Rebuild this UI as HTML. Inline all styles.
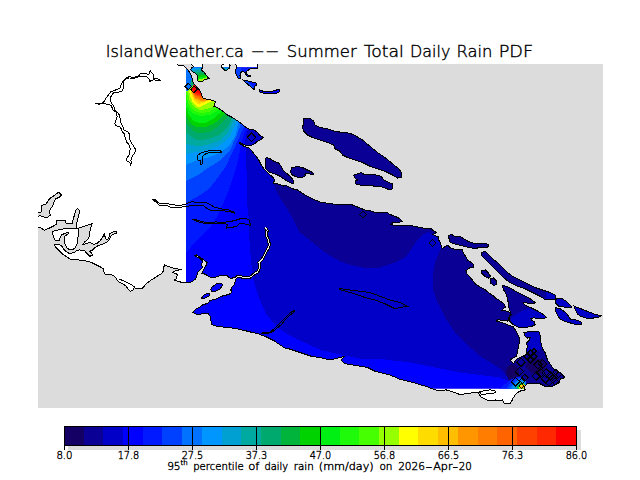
<!DOCTYPE html><html><head><meta charset="utf-8"><title>IslandWeather.ca -- Summer Total Daily Rain PDF</title>
<style>html,body{margin:0;padding:0;background:#fff;width:640px;height:480px;overflow:hidden}svg{display:block}text{font-family:"Liberation Sans",Arial,sans-serif;fill:#000}.mo{font-family:"Liberation Mono",monospace}.tt{font-family:"DejaVu Sans","Liberation Sans",sans-serif;font-weight:200;stroke:#000;stroke-width:0.4px}</style></head><body>
<svg width="640" height="480" viewBox="0 0 640 480">
<defs>
<clipPath id="map"><rect x="38" y="64" width="565" height="344"/></clipPath>
<clipPath id="land"><path d="M30 60 L176 60 L176 63.1 L178.25 65.3 L182.6 65.3 L184.5 66.25 L187 68.75 L188.9 71.25 L190.75 74.4 L192 77.5 L192.6 80.6 L193.6 83.75 L195.25 85.25 L197.1 87.75 L199 89.6 L200.9 92.75 L202.1 95.9 L202.75 97.75 L204.6 98.7 L209 99.6 L212.75 100.25 L215.25 101.8 L214.6 104.6 L214 106.2 L215.9 107.1 L219 108.7 L221.5 110.25 L224 112.1 L227.5 115 L232.5 117.5 L236.25 120 L240 122.5 L243.75 125.6 L246.9 128.1 L250 129.4 L253.75 130 L256.9 131.9 L259.4 135 L263.1 137.5 L261.25 139.4 L257.5 141.25 L253.75 144.4 L250 145.6 L246.25 145.6 L243.1 144.4 L240 142.5 L239.4 143.1 L241.9 145 L245 146.9 L248.75 147.5 L251.25 150 L253.75 153.75 L256.25 156.25 L258.75 160 L260.6 163.75 L262.5 166.9 L265 170 L268.75 173.75 L272.5 176.9 L275 180 L273.1 183.1 L276.25 183.75 L280 184.4 L283.1 186.25 L285 185 L288.75 186.9 L292.5 188.75 L297.5 190 L305 195 L312.5 198.75 L320 202 L330 203.75 L340 204.5 L352.5 205 L357.5 207 L365 210 L370 210.5 L375 212.5 L382.5 213 L386.25 212 L390 214.5 L395 216.25 L400 218.75 L402.5 221.25 L398.75 222.5 L392.5 223 L390.5 224.5 L395 225.5 L405 225 L415 226.25 L422.5 228 L425 228.3 L430.6 228.3 L433.4 230.6 L436.25 232.5 L434.4 233.9 L432.5 234.4 L434.4 235.3 L439 237.2 L438.6 240 L440 241.9 L442.3 248.9 L443.75 247.5 L447.5 245.2 L449.8 247.5 L453.1 248.9 L457.8 249.4 L462.5 249.8 L463.4 253.1 L465.3 255.9 L467.2 259.7 L470 261.6 L473.2 264.2 L473.2 267.1 L469.6 267.8 L466 270.75 L466.7 273.7 L469.6 276.6 L472.5 280.2 L475.4 283.9 L479.8 286.8 L484.2 289 L488.5 292.6 L492.9 295.5 L495.8 298.5 L498.75 299.9 L501.7 302.1 L504.6 304.3 L505.3 307.2 L503.1 308.7 L501.7 310.1 L505.3 310.9 L507.5 311.6 L509.7 312.3 L510.4 314.5 L509 316.7 L509 319.6 L507.5 321.1 L501.7 320.3 L498 319.6 L496.6 321.1 L501.7 322.5 L507.5 324.7 L513.3 326.9 L516.25 331.25 L517.5 333.75 L518.75 336.25 L519.4 338.75 L519.4 342.5 L518.75 345 L518.1 348.75 L517.5 352.5 L516.25 356.25 L513.75 357.5 L511.25 358.75 L510.6 360.6 L512.5 362.5 L513.75 363.75 L515 361.25 L517.5 358.75 L520 357.5 L522.5 356.25 L525 355 L526.9 353.75 L526.25 350 L527.5 346.25 L526.25 343.75 L527.5 341.9 L529.4 340 L530 337.5 L527.5 338.1 L525 336.25 L523.75 332.5 L527.5 331.9 L532.5 331.5 L537.5 331.25 L538.75 331.25 L540 335 L540.6 340 L541.25 345 L542.5 348.75 L545 352.5 L546.25 356.25 L547.5 360 L550 363.75 L552.5 367.5 L555 370 L557.5 371.25 L560 372.5 L562.5 375 L564.4 376.9 L563.75 378.1 L561.25 378.1 L560 380 L559.4 382.5 L557.5 383.75 L555 385 L552.5 386.25 L548.75 386.9 L545 386.25 L542.5 385 L540 383.75 L536.25 383.1 L532.5 383.1 L528.75 383.1 L526.25 384.4 L525 386.25 L524.4 388.75 L525.2 389.9 L521.25 390.7 L518.1 392.2 L515 395.3 L512.7 398.5 L511.9 400.8 L510.3 403.1 L507.2 403.9 L504.1 403.1 L502.5 400 L497.8 400.8 L495.5 400 L491.6 400.8 L486.9 400 L482.2 397.7 L479.1 395.3 L480.6 393 L477.5 392.2 L471.25 393 L465 393.8 L460.3 394.6 L455.6 393 L450.9 391.4 L446.25 389.9 L440 390.7 L437.6 390.5 L434.5 389.5 L430.5 388.4 L426.4 386.4 L422.3 385.4 L416.25 383.4 L408.1 381.3 L400 379.3 L390 375 L375 371.25 L367.5 367.5 L356.25 365.6 L345 363.75 L341.25 360 L345 356.25 L337.5 358.1 L330 360 L322.5 358.1 L311.25 356.25 L300 352.5 L288.75 348.75 L285 348.1 L279.4 344.4 L273.75 340.6 L266.25 336.9 L258.75 334 L251.25 332.2 L240 329.4 L228.75 327.5 L217.5 326.6 L211.9 324.7 L210 316.25 L208.1 313.4 L196.9 314.4 L193.1 312.5 L195 309.7 L198.75 307.8 L202.5 305 L208.1 303.1 L210 300.3 L215.6 299.4 L221.5 296.25 L226.5 295 L230.25 293.75 L231.5 292.5 L230.9 290 L231.5 287.5 L234 285 L235.25 281.25 L236.5 278.1 L234 276.9 L231.5 278.75 L229 277.5 L227.1 275.6 L224 275 L220.25 275.6 L216.5 276.9 L212.75 277.5 L209 276.9 L206.5 275 L204 273.75 L201.5 273.75 L202.75 271.25 L204.6 267.5 L206.5 265 L207.1 262.5 L204 260 L200.25 257.5 L196.5 255 L195.25 255.6 L196.5 256.9 L200.25 258.75 L202.75 261.25 L201.5 264.4 L202.75 267.5 L200.25 270 L197.75 272.5 L197.1 275 L195.9 278.75 L192.75 281.25 L189 283.1 L186 282.5 L182.5 282.5 L177.5 281.25 L173.75 280 L176.25 278.75 L176.25 276.9 L178.1 275 L176.25 273.75 L172.5 272.5 L173.75 271.25 L178.1 270.6 L180.6 269.4 L176.25 268.75 L171.25 267.5 L167.5 266.25 L164.4 265 L163.75 267.5 L163.1 271.25 L161.25 273.75 L156.25 276.9 L151.25 280 L146.25 283.75 L142.5 288.1 L135 288.1 L134.4 287.5 L133.1 290 L130.6 291.25 L128.75 290 L126.25 286.25 L122.5 283.75 L118.75 281.9 L117.5 280.6 L116.25 278.1 L113.75 275.6 L110 274.4 L108.5 274.1 L105.4 274.75 L104.1 272.25 L103.5 269.1 L101 267.25 L97.25 265.4 L93.5 263.5 L91.1 262.3 L83.2 260.4 L75.4 259.7 L70.1 259 L66.2 256.4 L62.25 253.8 L59 250.5 L55.7 247.25 L54.4 244.6 L55 244 L59 244.6 L61.6 245.9 L64.2 249.9 L67.5 252.5 L70.1 253.8 L72.7 252.5 L75.4 251.8 L76.7 250.5 L79.3 249.9 L84.6 250.5 L86.5 253 L89.8 256.4 L92.4 255.1 L91.8 253.15 L89.8 251.2 L92.4 250.5 L93.7 248.6 L97.7 245.9 L101.6 244.6 L106.9 242 L109.5 239.4 L110.8 236.1 L113.4 234.1 L116.3 233.5 L116.05 231.5 L112.1 232.15 L109.5 234.1 L108.8 238.1 L106.9 240 L105.55 238.1 L104.2 234.1 L102.9 236.75 L100.3 240.7 L97 243.3 L93.7 244.6 L89.8 242 L87.2 243.3 L82.6 244.6 L84.6 242 L87.8 239.4 L89.15 236.75 L89.8 231.5 L91.1 226.25 L92.4 223.6 L85.9 225.6 L80 227.6 L78.65 228.2 L76.7 228.2 L76.7 223.6 L78 218.4 L79.3 213.1 L79 209.8 L77.3 208.5 L75.4 210.5 L74.7 214.4 L73.4 218.4 L72.1 223.6 L66.2 223.6 L65.5 220.3 L56.3 220.3 L56.3 224.3 L53.1 226.25 L49.1 228.2 L44.5 230.2 L41.25 228.2 L38 226.9 L30 226.9ZM190.1 60 L190.1 62.8 L192.6 65.6 L193.6 66.25 L191.4 68.1 L190.75 70 L192.6 71.9 L195.1 73.1 L197 75 L197.6 78.1 L197.6 80.6 L198.25 81.6 L202 81.6 L203.9 80 L206.4 79.4 L208.9 78.4 L207 76.25 L205.1 73.75 L203.9 71.9 L202 70.6 L201.4 69.4 L202.6 67.5 L202.6 65 L201.4 62.8 L201.4 60ZM221.9 65 L225 63.75 L228.75 63.75 L230 65.6 L229.4 68.1 L226.9 70 L224.4 70 L221.9 67.5ZM235 60 L257.5 60 L257.5 68.75 L250 68.75 L249.4 69.4 L246.9 71.25 L246.25 73.75 L248.1 75 L250 75.6 L250 76.9 L248.1 76.9 L246.25 75.6 L245 72.5 L243.1 71.25 L240.6 72.5 L240 75.6 L240 78.1 L238.1 78.1 L236.25 75 L235.6 71.25 L236.25 67.5 L236 65ZM243.1 80 L248.75 81.25 L256.25 83.1 L256.9 85 L255 86.25 L254.4 89.4 L253.1 88.75 L250 86.25 L246.25 83.1ZM259.4 90 L261.25 90.6 L265 91.9 L270 91.9 L275 90.6 L278.1 89.4 L279.75 90 L278.75 92.5 L275 93.5 L270 93.75 L265 93.5 L261.25 92.75 L259.4 91.9ZM303.75 118.75 L307.5 118 L310 118 L313.75 121.25 L315 125 L320 127.5 L327.5 128.75 L335 131.25 L342.5 132.5 L350 133.25 L356.25 136.25 L362.5 140 L370 146.25 L377.5 152.5 L385 157.5 L392.5 163.75 L398.75 168.75 L401.25 172.5 L401.25 177.5 L397.5 178 L392.5 175 L385 171.25 L377.5 168.75 L370 166.25 L362.5 162.5 L355 160 L347.5 157.5 L342.5 155 L340 151.25 L335 148.75 L333.75 145 L327.5 142.5 L320 140 L312.5 137.5 L307.5 135 L303.75 131.25 L302.5 127.5 L303.75 122.5ZM353.75 175 L357.5 173.75 L361.25 172.5 L365 175 L370 174.5 L376.25 175 L381.25 176.25 L383.75 180 L388.75 182.5 L392.5 183.75 L393 188.75 L390 190 L385 188 L380 186.25 L375 186.25 L367.5 185 L360 185 L355.5 183.75 L355 181.25 L357.5 180 L354.5 177.5ZM290.6 172.5 L291.25 168.1 L295 166.9 L300 166.9 L303.75 168.1 L307.5 170 L311.25 171.9 L313.75 173.75 L312.5 174.75 L308.75 173.75 L306.25 173.1 L305 174.4 L305.6 175.6 L303.75 176.9 L300 177.5 L296.25 176.9 L292.5 175ZM266.25 157.5 L270 158.75 L273.75 161.25 L278.75 163.1 L281.25 166.25 L283.1 170 L286.25 173.1 L290 176.25 L293.1 180 L293.75 183.1 L291.25 183.1 L287.5 181.25 L283.75 178.75 L280 176.25 L276.25 174.4 L272.5 173.1 L268.75 171.9 L266.25 169.4 L265 165 L265.6 160ZM448 235.3 L452.2 234.8 L455 236.7 L459.7 236.25 L462.5 238.1 L467.2 240.9 L471.9 242.8 L477.5 243.75 L486.25 243.75 L488.75 245 L487.5 247.5 L477.5 248 L471.9 248 L465.3 246.6 L457.8 244.7 L451.25 242.8 L448.9 241 L449.4 239 L448 237.2ZM481.25 252.5 L485 251.25 L488.75 255 L492.5 258.75 L497.5 262.5 L502.5 267.5 L507.5 272.5 L512.5 276.25 L520 280 L527.5 283.75 L535 287.5 L542.5 290 L550 292.5 L555 295 L556.25 298.75 L552.5 300 L545 299.5 L540 296.25 L532.5 292.5 L525 288.75 L517.5 286.25 L510 282.5 L505 278.75 L500 273.75 L495 268.75 L490 263.75 L485 258.75 L481.25 255ZM481.25 270.75 L485.6 270 L488.5 272.9 L490.7 276.6 L488.5 278 L484.9 276.6 L482 273.7ZM490 278.8 L493.6 278 L496.6 281 L496.6 284.6 L493.6 285.3 L490.7 283.1 L490 280.2ZM502.4 285.2 L506.5 286.3 L512.2 289.2 L517.9 292.6 L524.8 296 L530.5 298.9 L535.1 302.3 L533.9 304 L529.4 303.5 L523.6 302.3 L523.1 303.5 L526.5 305.8 L531.7 308.1 L537.4 310.9 L543.1 314.4 L546.5 317.2 L544.3 318.4 L539.7 318.9 L533.9 317.8 L530.5 318.4 L531.7 320.1 L534.5 321.8 L535.1 324.7 L531.7 326.4 L524.8 327.5 L517.9 327 L513.3 324.7 L509.9 321.2 L508.7 317.8 L511 314.4 L509.9 310.9 L508.7 307.5 L508.2 302.9 L507.6 298.3 L505.9 293.7 L504.2 290.9 L503 288ZM555 299.2 L561.9 298.4 L567 301.8 L570.4 305.2 L572.2 306.9 L568.7 307.8 L563.6 306.9 L558.4 306.1 L555.8 303.5ZM555.8 307.8 L560.1 308.7 L565.3 312.1 L568.7 316.4 L570.4 319 L575.6 319.8 L580.8 321.5 L581.6 324.1 L577.3 324.6 L572.2 323.6 L568.7 322.4 L565.3 321.5 L560.1 319 L557.6 315.5 L555.8 311.2ZM573.9 306.1 L580.8 308.7 L589.3 312.1 L596.2 314.7 L601.4 315.5 L598.8 317.3 L592.8 318.1 L585.9 318.1 L580.8 316.4 L577.3 313.8 L575.6 310.4ZM211.5 287.5 L216.5 283.75 L221.5 283.1 L222.75 285 L220.25 288.75 L215.25 291.25 L211.5 291.9 L210.9 289.4ZM201.5 298.1 L204 295 L207.75 293.1 L209.6 293.75 L209 296.25 L205.9 297.5 L202.75 298.75Z"/></clipPath>
<clipPath id="data"><rect x="186" y="67.6" width="417" height="321.0"/></clipPath>
</defs>
<g clip-path="url(#map)" shape-rendering="crispEdges">
<rect x="38" y="64" width="565" height="344" fill="#dcdcdc"/>
<path d="M30 60 L176 60 L176 63.1 L178.25 65.3 L182.6 65.3 L184.5 66.25 L187 68.75 L188.9 71.25 L190.75 74.4 L192 77.5 L192.6 80.6 L193.6 83.75 L195.25 85.25 L197.1 87.75 L199 89.6 L200.9 92.75 L202.1 95.9 L202.75 97.75 L204.6 98.7 L209 99.6 L212.75 100.25 L215.25 101.8 L214.6 104.6 L214 106.2 L215.9 107.1 L219 108.7 L221.5 110.25 L224 112.1 L227.5 115 L232.5 117.5 L236.25 120 L240 122.5 L243.75 125.6 L246.9 128.1 L250 129.4 L253.75 130 L256.9 131.9 L259.4 135 L263.1 137.5 L261.25 139.4 L257.5 141.25 L253.75 144.4 L250 145.6 L246.25 145.6 L243.1 144.4 L240 142.5 L239.4 143.1 L241.9 145 L245 146.9 L248.75 147.5 L251.25 150 L253.75 153.75 L256.25 156.25 L258.75 160 L260.6 163.75 L262.5 166.9 L265 170 L268.75 173.75 L272.5 176.9 L275 180 L273.1 183.1 L276.25 183.75 L280 184.4 L283.1 186.25 L285 185 L288.75 186.9 L292.5 188.75 L297.5 190 L305 195 L312.5 198.75 L320 202 L330 203.75 L340 204.5 L352.5 205 L357.5 207 L365 210 L370 210.5 L375 212.5 L382.5 213 L386.25 212 L390 214.5 L395 216.25 L400 218.75 L402.5 221.25 L398.75 222.5 L392.5 223 L390.5 224.5 L395 225.5 L405 225 L415 226.25 L422.5 228 L425 228.3 L430.6 228.3 L433.4 230.6 L436.25 232.5 L434.4 233.9 L432.5 234.4 L434.4 235.3 L439 237.2 L438.6 240 L440 241.9 L442.3 248.9 L443.75 247.5 L447.5 245.2 L449.8 247.5 L453.1 248.9 L457.8 249.4 L462.5 249.8 L463.4 253.1 L465.3 255.9 L467.2 259.7 L470 261.6 L473.2 264.2 L473.2 267.1 L469.6 267.8 L466 270.75 L466.7 273.7 L469.6 276.6 L472.5 280.2 L475.4 283.9 L479.8 286.8 L484.2 289 L488.5 292.6 L492.9 295.5 L495.8 298.5 L498.75 299.9 L501.7 302.1 L504.6 304.3 L505.3 307.2 L503.1 308.7 L501.7 310.1 L505.3 310.9 L507.5 311.6 L509.7 312.3 L510.4 314.5 L509 316.7 L509 319.6 L507.5 321.1 L501.7 320.3 L498 319.6 L496.6 321.1 L501.7 322.5 L507.5 324.7 L513.3 326.9 L516.25 331.25 L517.5 333.75 L518.75 336.25 L519.4 338.75 L519.4 342.5 L518.75 345 L518.1 348.75 L517.5 352.5 L516.25 356.25 L513.75 357.5 L511.25 358.75 L510.6 360.6 L512.5 362.5 L513.75 363.75 L515 361.25 L517.5 358.75 L520 357.5 L522.5 356.25 L525 355 L526.9 353.75 L526.25 350 L527.5 346.25 L526.25 343.75 L527.5 341.9 L529.4 340 L530 337.5 L527.5 338.1 L525 336.25 L523.75 332.5 L527.5 331.9 L532.5 331.5 L537.5 331.25 L538.75 331.25 L540 335 L540.6 340 L541.25 345 L542.5 348.75 L545 352.5 L546.25 356.25 L547.5 360 L550 363.75 L552.5 367.5 L555 370 L557.5 371.25 L560 372.5 L562.5 375 L564.4 376.9 L563.75 378.1 L561.25 378.1 L560 380 L559.4 382.5 L557.5 383.75 L555 385 L552.5 386.25 L548.75 386.9 L545 386.25 L542.5 385 L540 383.75 L536.25 383.1 L532.5 383.1 L528.75 383.1 L526.25 384.4 L525 386.25 L524.4 388.75 L525.2 389.9 L521.25 390.7 L518.1 392.2 L515 395.3 L512.7 398.5 L511.9 400.8 L510.3 403.1 L507.2 403.9 L504.1 403.1 L502.5 400 L497.8 400.8 L495.5 400 L491.6 400.8 L486.9 400 L482.2 397.7 L479.1 395.3 L480.6 393 L477.5 392.2 L471.25 393 L465 393.8 L460.3 394.6 L455.6 393 L450.9 391.4 L446.25 389.9 L440 390.7 L437.6 390.5 L434.5 389.5 L430.5 388.4 L426.4 386.4 L422.3 385.4 L416.25 383.4 L408.1 381.3 L400 379.3 L390 375 L375 371.25 L367.5 367.5 L356.25 365.6 L345 363.75 L341.25 360 L345 356.25 L337.5 358.1 L330 360 L322.5 358.1 L311.25 356.25 L300 352.5 L288.75 348.75 L285 348.1 L279.4 344.4 L273.75 340.6 L266.25 336.9 L258.75 334 L251.25 332.2 L240 329.4 L228.75 327.5 L217.5 326.6 L211.9 324.7 L210 316.25 L208.1 313.4 L196.9 314.4 L193.1 312.5 L195 309.7 L198.75 307.8 L202.5 305 L208.1 303.1 L210 300.3 L215.6 299.4 L221.5 296.25 L226.5 295 L230.25 293.75 L231.5 292.5 L230.9 290 L231.5 287.5 L234 285 L235.25 281.25 L236.5 278.1 L234 276.9 L231.5 278.75 L229 277.5 L227.1 275.6 L224 275 L220.25 275.6 L216.5 276.9 L212.75 277.5 L209 276.9 L206.5 275 L204 273.75 L201.5 273.75 L202.75 271.25 L204.6 267.5 L206.5 265 L207.1 262.5 L204 260 L200.25 257.5 L196.5 255 L195.25 255.6 L196.5 256.9 L200.25 258.75 L202.75 261.25 L201.5 264.4 L202.75 267.5 L200.25 270 L197.75 272.5 L197.1 275 L195.9 278.75 L192.75 281.25 L189 283.1 L186 282.5 L182.5 282.5 L177.5 281.25 L173.75 280 L176.25 278.75 L176.25 276.9 L178.1 275 L176.25 273.75 L172.5 272.5 L173.75 271.25 L178.1 270.6 L180.6 269.4 L176.25 268.75 L171.25 267.5 L167.5 266.25 L164.4 265 L163.75 267.5 L163.1 271.25 L161.25 273.75 L156.25 276.9 L151.25 280 L146.25 283.75 L142.5 288.1 L135 288.1 L134.4 287.5 L133.1 290 L130.6 291.25 L128.75 290 L126.25 286.25 L122.5 283.75 L118.75 281.9 L117.5 280.6 L116.25 278.1 L113.75 275.6 L110 274.4 L108.5 274.1 L105.4 274.75 L104.1 272.25 L103.5 269.1 L101 267.25 L97.25 265.4 L93.5 263.5 L91.1 262.3 L83.2 260.4 L75.4 259.7 L70.1 259 L66.2 256.4 L62.25 253.8 L59 250.5 L55.7 247.25 L54.4 244.6 L55 244 L59 244.6 L61.6 245.9 L64.2 249.9 L67.5 252.5 L70.1 253.8 L72.7 252.5 L75.4 251.8 L76.7 250.5 L79.3 249.9 L84.6 250.5 L86.5 253 L89.8 256.4 L92.4 255.1 L91.8 253.15 L89.8 251.2 L92.4 250.5 L93.7 248.6 L97.7 245.9 L101.6 244.6 L106.9 242 L109.5 239.4 L110.8 236.1 L113.4 234.1 L116.3 233.5 L116.05 231.5 L112.1 232.15 L109.5 234.1 L108.8 238.1 L106.9 240 L105.55 238.1 L104.2 234.1 L102.9 236.75 L100.3 240.7 L97 243.3 L93.7 244.6 L89.8 242 L87.2 243.3 L82.6 244.6 L84.6 242 L87.8 239.4 L89.15 236.75 L89.8 231.5 L91.1 226.25 L92.4 223.6 L85.9 225.6 L80 227.6 L78.65 228.2 L76.7 228.2 L76.7 223.6 L78 218.4 L79.3 213.1 L79 209.8 L77.3 208.5 L75.4 210.5 L74.7 214.4 L73.4 218.4 L72.1 223.6 L66.2 223.6 L65.5 220.3 L56.3 220.3 L56.3 224.3 L53.1 226.25 L49.1 228.2 L44.5 230.2 L41.25 228.2 L38 226.9 L30 226.9ZM190.1 60 L190.1 62.8 L192.6 65.6 L193.6 66.25 L191.4 68.1 L190.75 70 L192.6 71.9 L195.1 73.1 L197 75 L197.6 78.1 L197.6 80.6 L198.25 81.6 L202 81.6 L203.9 80 L206.4 79.4 L208.9 78.4 L207 76.25 L205.1 73.75 L203.9 71.9 L202 70.6 L201.4 69.4 L202.6 67.5 L202.6 65 L201.4 62.8 L201.4 60ZM221.9 65 L225 63.75 L228.75 63.75 L230 65.6 L229.4 68.1 L226.9 70 L224.4 70 L221.9 67.5ZM235 60 L257.5 60 L257.5 68.75 L250 68.75 L249.4 69.4 L246.9 71.25 L246.25 73.75 L248.1 75 L250 75.6 L250 76.9 L248.1 76.9 L246.25 75.6 L245 72.5 L243.1 71.25 L240.6 72.5 L240 75.6 L240 78.1 L238.1 78.1 L236.25 75 L235.6 71.25 L236.25 67.5 L236 65ZM243.1 80 L248.75 81.25 L256.25 83.1 L256.9 85 L255 86.25 L254.4 89.4 L253.1 88.75 L250 86.25 L246.25 83.1ZM259.4 90 L261.25 90.6 L265 91.9 L270 91.9 L275 90.6 L278.1 89.4 L279.75 90 L278.75 92.5 L275 93.5 L270 93.75 L265 93.5 L261.25 92.75 L259.4 91.9ZM303.75 118.75 L307.5 118 L310 118 L313.75 121.25 L315 125 L320 127.5 L327.5 128.75 L335 131.25 L342.5 132.5 L350 133.25 L356.25 136.25 L362.5 140 L370 146.25 L377.5 152.5 L385 157.5 L392.5 163.75 L398.75 168.75 L401.25 172.5 L401.25 177.5 L397.5 178 L392.5 175 L385 171.25 L377.5 168.75 L370 166.25 L362.5 162.5 L355 160 L347.5 157.5 L342.5 155 L340 151.25 L335 148.75 L333.75 145 L327.5 142.5 L320 140 L312.5 137.5 L307.5 135 L303.75 131.25 L302.5 127.5 L303.75 122.5ZM353.75 175 L357.5 173.75 L361.25 172.5 L365 175 L370 174.5 L376.25 175 L381.25 176.25 L383.75 180 L388.75 182.5 L392.5 183.75 L393 188.75 L390 190 L385 188 L380 186.25 L375 186.25 L367.5 185 L360 185 L355.5 183.75 L355 181.25 L357.5 180 L354.5 177.5ZM290.6 172.5 L291.25 168.1 L295 166.9 L300 166.9 L303.75 168.1 L307.5 170 L311.25 171.9 L313.75 173.75 L312.5 174.75 L308.75 173.75 L306.25 173.1 L305 174.4 L305.6 175.6 L303.75 176.9 L300 177.5 L296.25 176.9 L292.5 175ZM266.25 157.5 L270 158.75 L273.75 161.25 L278.75 163.1 L281.25 166.25 L283.1 170 L286.25 173.1 L290 176.25 L293.1 180 L293.75 183.1 L291.25 183.1 L287.5 181.25 L283.75 178.75 L280 176.25 L276.25 174.4 L272.5 173.1 L268.75 171.9 L266.25 169.4 L265 165 L265.6 160ZM448 235.3 L452.2 234.8 L455 236.7 L459.7 236.25 L462.5 238.1 L467.2 240.9 L471.9 242.8 L477.5 243.75 L486.25 243.75 L488.75 245 L487.5 247.5 L477.5 248 L471.9 248 L465.3 246.6 L457.8 244.7 L451.25 242.8 L448.9 241 L449.4 239 L448 237.2ZM481.25 252.5 L485 251.25 L488.75 255 L492.5 258.75 L497.5 262.5 L502.5 267.5 L507.5 272.5 L512.5 276.25 L520 280 L527.5 283.75 L535 287.5 L542.5 290 L550 292.5 L555 295 L556.25 298.75 L552.5 300 L545 299.5 L540 296.25 L532.5 292.5 L525 288.75 L517.5 286.25 L510 282.5 L505 278.75 L500 273.75 L495 268.75 L490 263.75 L485 258.75 L481.25 255ZM481.25 270.75 L485.6 270 L488.5 272.9 L490.7 276.6 L488.5 278 L484.9 276.6 L482 273.7ZM490 278.8 L493.6 278 L496.6 281 L496.6 284.6 L493.6 285.3 L490.7 283.1 L490 280.2ZM502.4 285.2 L506.5 286.3 L512.2 289.2 L517.9 292.6 L524.8 296 L530.5 298.9 L535.1 302.3 L533.9 304 L529.4 303.5 L523.6 302.3 L523.1 303.5 L526.5 305.8 L531.7 308.1 L537.4 310.9 L543.1 314.4 L546.5 317.2 L544.3 318.4 L539.7 318.9 L533.9 317.8 L530.5 318.4 L531.7 320.1 L534.5 321.8 L535.1 324.7 L531.7 326.4 L524.8 327.5 L517.9 327 L513.3 324.7 L509.9 321.2 L508.7 317.8 L511 314.4 L509.9 310.9 L508.7 307.5 L508.2 302.9 L507.6 298.3 L505.9 293.7 L504.2 290.9 L503 288ZM555 299.2 L561.9 298.4 L567 301.8 L570.4 305.2 L572.2 306.9 L568.7 307.8 L563.6 306.9 L558.4 306.1 L555.8 303.5ZM555.8 307.8 L560.1 308.7 L565.3 312.1 L568.7 316.4 L570.4 319 L575.6 319.8 L580.8 321.5 L581.6 324.1 L577.3 324.6 L572.2 323.6 L568.7 322.4 L565.3 321.5 L560.1 319 L557.6 315.5 L555.8 311.2ZM573.9 306.1 L580.8 308.7 L589.3 312.1 L596.2 314.7 L601.4 315.5 L598.8 317.3 L592.8 318.1 L585.9 318.1 L580.8 316.4 L577.3 313.8 L575.6 310.4ZM211.5 287.5 L216.5 283.75 L221.5 283.1 L222.75 285 L220.25 288.75 L215.25 291.25 L211.5 291.9 L210.9 289.4ZM201.5 298.1 L204 295 L207.75 293.1 L209.6 293.75 L209 296.25 L205.9 297.5 L202.75 298.75Z" fill="#fff"/>
<g clip-path="url(#data)"><g clip-path="url(#land)">
<path d="M180 55 L610 55 L610 400 L180 400Z" fill="#0000c8"/>
<path d="M262 60 L610 60 L610 400 L514 400 L512 384 L508 378 L502 370 L493 364 L480 356 L467.5 345 L455 332.5 L445 317.5 L437.5 302.5 L432.5 287.5 L432.5 275 L435 262.5 L440 250 L442 247 L436 236 L428 232 L422.5 235 L417.5 240 L412.5 247.5 L405 257.5 L395 262.5 L380 267.5 L365 268 L350 265 L337.5 260 L325 252.5 L312.5 242.5 L300 232.5 L294 220.6 L288 210 L280 198 L276 190 L274 184 L276.5 177.5 L272.5 175.2 L268.5 172.8 L265.5 169.6 L263.3 165.5 L263 155 L275 130 L285 120 L285 95 L262 95Z" fill="#0a0096"/>
<path d="M520 328 L545 328 L546 345 L540 350 L530 352 L522 352ZM511 318 L517.9 313.2 L524.8 309.8 L529.4 308 L536 306 L550 312 L550 328 L520 328.5 L515 327 L511 323ZM546 290 L556 290 L558 296 L556 301 L546 301ZM556 299 L566 300 L575 304 L590 310 L603 312 L603 322 L575 326 L555 318Z" fill="#0000c8"/>
<path d="M507 367 L512 364 L517 366 L519 372 L518 379 L514 382 L509 380 L506 374ZM527 362 L533 359 L541 359 L546 364 L545 371 L538 375 L530 372 L526 367Z" fill="#140064"/>
<path d="M180 55 L290 55 L290 96 L262 110 L248.5 128.6 L246 135 L245 144 L246 151 L246.5 170 L246.5 197.5 L249 220 L249.4 240 L251.25 262.5 L253.1 278.75 L258.75 297.5 L266.25 314.4 L277.5 327.5 L288.75 335 L300 340.6 L322.5 350.6 L348.75 356.25 L360 358.5 L385 359.5 L410 362.5 L435 367.5 L460 372.5 L480 375 L500 377.5 L508 381 L513 386 L515 400 L180 400Z" fill="#0000ff"/>
<path d="M180 55 L258 55 L258 95 L250 118 L248.5 128.6 L245 131 L241.9 140.8 L239.8 151.25 L237.7 161.7 L234 175 L229 190 L221.5 207.5 L216.5 217.5 L209 229 L196.5 241 L186 252.5 L180 252.5Z" fill="#0019ff"/>
<path d="M180 55 L240 55 L241.5 70 L245.5 77.5 L250 83.5 L254.5 87.5 L252 110 L244.75 126.25 L241.9 131 L237.7 141 L232 153 L226 166 L219 176 L209 189 L196.5 197.5 L186 202.5 L180 202.5Z" fill="#0041ff"/>
<path d="M180 55 L233 55 L233 95 L246 115 L241 123.4 L236.5 136 L230 150 L220 160.5 L208 168 L196.5 176 L186 181 L180 181Z" fill="#0072ff"/>
<path d="M180 165 L186 165 L194 161.5 L200 159.5 L210 157 L220 153 L230 145 L236 134 L238.5 121.5 L250 115 L232 95 L232 60 L187 60 L187.7 68 L189.4 70.9 L191.2 74.1 L192.5 77.2 L193.1 80.3 L194.2 83.6 L195.3 85 L195.5 85.5 L191.8 88.8 L188.2 90.8 L186 92.5 L180 92.5Z" fill="#0096ff"/>
<path d="M180 154 L186 154 L194 152.5 L200 151.5 L210 149.5 L220 145.5 L230 137 L236.5 120.5 L248.5 112.5 L235 70 L215 65.5 L210 66 L189.17 70.5 L189.4 70.9 L191.2 74.1 L192.5 77.2 L193.1 80.3 L194.2 83.6 L195.3 85 L192.2 79.5 L190.6 81.5 L190.4 84 L191.8 86.5 L188.4 89.9 L186 92.5 L180 92.5Z" fill="#00a0d2"/>
<path d="M180 144 L186 144 L194 145.5 L200 146 L210 144 L220 140.5 L228 133 L234 119 L246 111 L235 70 L215 67 L210 67.5 L190.02 72 L191.2 74.1 L192.5 77.2 L193.1 80.3 L194.2 83.6 L195.3 85 L192.2 79.5 L190.6 81.5 L190.4 84 L191.8 86.5 L188.4 89.9 L186 92.5 L180 92.5Z" fill="#00aaa0"/>
<path d="M180 132.5 L186 132.5 L194 138.5 L200 140.5 L210 138.5 L220 134.5 L228 126 L232 117.5 L244 109.5 L235 70 L215 69 L210 69.5 L190.86 73.5 L191.2 74.1 L192.5 77.2 L193.1 80.3 L194.2 83.6 L195.3 85 L192.2 79.5 L190.6 81.5 L190.4 84 L191.8 86.5 L188.4 89.9 L186 92.5 L180 92.5Z" fill="#00aa6e"/>
<path d="M180 124 L186 124 L194 131.5 L200 133.5 L210 131.5 L217 127.5 L222 122.5 L228.5 116 L240.5 108 L235 70 L215 71 L210 71.5 L191.58 75 L192.5 77.2 L195.3 85 L191.8 86.5 L188.4 89.9 L186 92.5 L180 92.5Z" fill="#00b43c"/>
<path d="M180 115 L186 115 L190 123 L196 127 L204 127.5 L212 124.5 L218 120.5 L225 114 L237 106 L235 70 L215 73 L210 73.5 L192.42 77 L192.5 77.2 L195.3 85 L191.8 86.5 L188.4 89.9 L186 92.5 L180 92.5Z" fill="#00d200"/>
<path d="M180 106 L186 106 L189 115 L193 120.5 L199 123 L206 122.5 L213 119 L222 111.5 L234 103.5 L235 70 L215 75 L210 75.5 L192.85 79 L195.3 85 L191.8 86.5 L188.4 89.9 L186 92.5 L180 92.5Z" fill="#00f014"/>
<path d="M180 99 L186 99 L187.5 107 L192 113 L200 116 L210 115 L219 109.5 L231 101.5 L235 70 L215 77 L210 77.5 L193.17 80.5 L195.3 85 L191.8 86.5 L188.4 89.9 L186 92.5 L180 92.5Z" fill="#1efa0a"/>
<path d="M180 95 L186.5 95 L188 103 L193 110 L200 113 L209 112 L216.5 107.5 L228.5 99.5 L235 70 L215 78.5 L210 79 L193.5 81.5 L195.3 85 L191.8 86.5 L188.4 89.9 L186 92.5 L180 92.5Z" fill="#46ff00"/>
<path d="M180 92 L188 92 L189.5 100 L194 107 L200 110 L207 109 L215 106 L227 98 L235 70 L197 80 L195.3 85 L191.8 86.5 L188 91Z" fill="#96ff00"/>
<path d="M189.25 91 L190 95.5 L193 103 L198 107.5 L203 105.5 L209 102.5 L213 101 L218 96 L205 82 L196 82.5 L191.8 88.8Z" fill="#ffff00"/>
<path d="M191 93 L194 100.5 L198 104 L203 103 L208 100.5 L211.5 100 L217.5 92 L200 83 L193.7 84.8Z" fill="#ffdc00"/>
<path d="M191.5 92.5 L194.7 99.5 L199.5 102.5 L204.5 101.7 L210 100 L216 92 L200 83 L193.7 84.8Z" fill="#ffbe00"/>
<path d="M192 92 L195.5 98.5 L200.5 101 L205.5 100.5 L209 99.5 L215 91.5 L200 83 L193.7 84.8Z" fill="#ff9600"/>
<path d="M192 91.5 L195.5 97.5 L200 99.5 L204.5 99.5 L208 99 L214 91 L200 83 L193.7 84.8Z" fill="#ff7d00"/>
<path d="M192 91 L195.5 96 L199 97.5 L203 98.5 L206.5 98.5 L212.5 90.5 L200 83 L193.7 84.8Z" fill="#ff6400"/>
<path d="M191.5 90.5 L194.5 94.5 L197.5 95.8 L201 97 L204.5 97.5 L210.5 89.5 L200 83 L193.7 84.8Z" fill="#ff4100"/>
<path d="M191 90 L193.5 93 L197 94.5 L200.5 95.5 L203 96.5 L209 88.5 L200 83 L193.7 84.8Z" fill="#ff2800"/>
<path d="M192 89.5 L194 91.5 L197 93 L199.5 93.8 L201 94.2 L207 86.2 L200 83 L193.7 84.8Z" fill="#ff0000"/>
<path d="M499 388.8 L505.6 383.6 L511.9 379 L517 377 L521 376.5 L526 380 L526 390 L499 390Z" fill="#0019ff"/>
<path d="M505.6 388.8 L510.3 383.6 L515 379.5 L519 378 L523 378 L526 381 L526 390Z" fill="#0041ff"/>
<path d="M508.75 388.8 L513.4 383.6 L516.6 380.5 L520 379 L524 380 L526 382 L526 390Z" fill="#0072ff"/>
<path d="M511 388.8 L515 383.6 L518 381.3 L521 380.3 L525 382 L526 390Z" fill="#0096ff"/>
<path d="M513.4 388.8 L516.6 384.4 L519 382.5 L522 381.5 L525 383 L526 390Z" fill="#00a0d2"/>
<path d="M515.8 388.8 L518 385.2 L520.5 383.2 L523.5 383 L525.5 385 L526 390Z" fill="#00b43c"/>
<path d="M517.5 388.8 L519 385.5 L521.5 383.8 L524 384 L525.5 386 L525.5 390Z" fill="#1efa0a"/>
<path d="M519 388.6 L520.5 385.2 L522.5 384 L524.5 385 L524.5 388.6Z" fill="#ffdc00"/>
<path d="M520 388.2 L521.3 386 L523 385 L524 386.5 L523.5 388.3Z" fill="#ffbe00"/>
</g></g>
<path d="M30 212.5 L38 212.5 L41.9 211.8 L41.9 205.25 L45.8 204.6 L47.8 201.3 L49.75 198.5 L53.5 196 L56 194.1 L58.5 192.25 L61.6 195 L59.1 197.25 L55.4 199.1 L54.4 201 L53 205.25 L50.4 209.2 L49.1 211.8 L50.4 215.1 L47.8 217 L44 217 L40 215.75 L38 216.4 L30 216.4Z" fill="#dcdcdc" stroke="#000" stroke-width="1"/>
<path d="M52.4 231.5 L59.6 229.5 L67.5 228.2 L78 228.6 L78.3 234.1 L77.7 239.4 L76.9 244.6 L75.4 247.5 L73 249.5 L70.5 250 L67.5 248.5 L65.5 245.5 L64.2 241 L64.9 236 L68.2 234.1 L68.8 232.2 L66.2 232.8 L61.6 234.8 L60.3 236.75 L59 240.7 L56.3 240.7 L54.4 239.4 L53.1 235.4Z" fill="#fff" stroke="#000" stroke-width="1"/>
<path d="M30 60 L176 60 L176 63.1 L178.25 65.3 L182.6 65.3 L184.5 66.25 L187 68.75 L188.9 71.25 L190.75 74.4 L192 77.5 L192.6 80.6 L193.6 83.75 L195.25 85.25 L197.1 87.75 L199 89.6 L200.9 92.75 L202.1 95.9 L202.75 97.75 L204.6 98.7 L209 99.6 L212.75 100.25 L215.25 101.8 L214.6 104.6 L214 106.2 L215.9 107.1 L219 108.7 L221.5 110.25 L224 112.1 L227.5 115 L232.5 117.5 L236.25 120 L240 122.5 L243.75 125.6 L246.9 128.1 L250 129.4 L253.75 130 L256.9 131.9 L259.4 135 L263.1 137.5 L261.25 139.4 L257.5 141.25 L253.75 144.4 L250 145.6 L246.25 145.6 L243.1 144.4 L240 142.5 L239.4 143.1 L241.9 145 L245 146.9 L248.75 147.5 L251.25 150 L253.75 153.75 L256.25 156.25 L258.75 160 L260.6 163.75 L262.5 166.9 L265 170 L268.75 173.75 L272.5 176.9 L275 180 L273.1 183.1 L276.25 183.75 L280 184.4 L283.1 186.25 L285 185 L288.75 186.9 L292.5 188.75 L297.5 190 L305 195 L312.5 198.75 L320 202 L330 203.75 L340 204.5 L352.5 205 L357.5 207 L365 210 L370 210.5 L375 212.5 L382.5 213 L386.25 212 L390 214.5 L395 216.25 L400 218.75 L402.5 221.25 L398.75 222.5 L392.5 223 L390.5 224.5 L395 225.5 L405 225 L415 226.25 L422.5 228 L425 228.3 L430.6 228.3 L433.4 230.6 L436.25 232.5 L434.4 233.9 L432.5 234.4 L434.4 235.3 L439 237.2 L438.6 240 L440 241.9 L442.3 248.9 L443.75 247.5 L447.5 245.2 L449.8 247.5 L453.1 248.9 L457.8 249.4 L462.5 249.8 L463.4 253.1 L465.3 255.9 L467.2 259.7 L470 261.6 L473.2 264.2 L473.2 267.1 L469.6 267.8 L466 270.75 L466.7 273.7 L469.6 276.6 L472.5 280.2 L475.4 283.9 L479.8 286.8 L484.2 289 L488.5 292.6 L492.9 295.5 L495.8 298.5 L498.75 299.9 L501.7 302.1 L504.6 304.3 L505.3 307.2 L503.1 308.7 L501.7 310.1 L505.3 310.9 L507.5 311.6 L509.7 312.3 L510.4 314.5 L509 316.7 L509 319.6 L507.5 321.1 L501.7 320.3 L498 319.6 L496.6 321.1 L501.7 322.5 L507.5 324.7 L513.3 326.9 L516.25 331.25 L517.5 333.75 L518.75 336.25 L519.4 338.75 L519.4 342.5 L518.75 345 L518.1 348.75 L517.5 352.5 L516.25 356.25 L513.75 357.5 L511.25 358.75 L510.6 360.6 L512.5 362.5 L513.75 363.75 L515 361.25 L517.5 358.75 L520 357.5 L522.5 356.25 L525 355 L526.9 353.75 L526.25 350 L527.5 346.25 L526.25 343.75 L527.5 341.9 L529.4 340 L530 337.5 L527.5 338.1 L525 336.25 L523.75 332.5 L527.5 331.9 L532.5 331.5 L537.5 331.25 L538.75 331.25 L540 335 L540.6 340 L541.25 345 L542.5 348.75 L545 352.5 L546.25 356.25 L547.5 360 L550 363.75 L552.5 367.5 L555 370 L557.5 371.25 L560 372.5 L562.5 375 L564.4 376.9 L563.75 378.1 L561.25 378.1 L560 380 L559.4 382.5 L557.5 383.75 L555 385 L552.5 386.25 L548.75 386.9 L545 386.25 L542.5 385 L540 383.75 L536.25 383.1 L532.5 383.1 L528.75 383.1 L526.25 384.4 L525 386.25 L524.4 388.75 L525.2 389.9 L521.25 390.7 L518.1 392.2 L515 395.3 L512.7 398.5 L511.9 400.8 L510.3 403.1 L507.2 403.9 L504.1 403.1 L502.5 400 L497.8 400.8 L495.5 400 L491.6 400.8 L486.9 400 L482.2 397.7 L479.1 395.3 L480.6 393 L477.5 392.2 L471.25 393 L465 393.8 L460.3 394.6 L455.6 393 L450.9 391.4 L446.25 389.9 L440 390.7 L437.6 390.5 L434.5 389.5 L430.5 388.4 L426.4 386.4 L422.3 385.4 L416.25 383.4 L408.1 381.3 L400 379.3 L390 375 L375 371.25 L367.5 367.5 L356.25 365.6 L345 363.75 L341.25 360 L345 356.25 L337.5 358.1 L330 360 L322.5 358.1 L311.25 356.25 L300 352.5 L288.75 348.75 L285 348.1 L279.4 344.4 L273.75 340.6 L266.25 336.9 L258.75 334 L251.25 332.2 L240 329.4 L228.75 327.5 L217.5 326.6 L211.9 324.7 L210 316.25 L208.1 313.4 L196.9 314.4 L193.1 312.5 L195 309.7 L198.75 307.8 L202.5 305 L208.1 303.1 L210 300.3 L215.6 299.4 L221.5 296.25 L226.5 295 L230.25 293.75 L231.5 292.5 L230.9 290 L231.5 287.5 L234 285 L235.25 281.25 L236.5 278.1 L234 276.9 L231.5 278.75 L229 277.5 L227.1 275.6 L224 275 L220.25 275.6 L216.5 276.9 L212.75 277.5 L209 276.9 L206.5 275 L204 273.75 L201.5 273.75 L202.75 271.25 L204.6 267.5 L206.5 265 L207.1 262.5 L204 260 L200.25 257.5 L196.5 255 L195.25 255.6 L196.5 256.9 L200.25 258.75 L202.75 261.25 L201.5 264.4 L202.75 267.5 L200.25 270 L197.75 272.5 L197.1 275 L195.9 278.75 L192.75 281.25 L189 283.1 L186 282.5 L182.5 282.5 L177.5 281.25 L173.75 280 L176.25 278.75 L176.25 276.9 L178.1 275 L176.25 273.75 L172.5 272.5 L173.75 271.25 L178.1 270.6 L180.6 269.4 L176.25 268.75 L171.25 267.5 L167.5 266.25 L164.4 265 L163.75 267.5 L163.1 271.25 L161.25 273.75 L156.25 276.9 L151.25 280 L146.25 283.75 L142.5 288.1 L135 288.1 L134.4 287.5 L133.1 290 L130.6 291.25 L128.75 290 L126.25 286.25 L122.5 283.75 L118.75 281.9 L117.5 280.6 L116.25 278.1 L113.75 275.6 L110 274.4 L108.5 274.1 L105.4 274.75 L104.1 272.25 L103.5 269.1 L101 267.25 L97.25 265.4 L93.5 263.5 L91.1 262.3 L83.2 260.4 L75.4 259.7 L70.1 259 L66.2 256.4 L62.25 253.8 L59 250.5 L55.7 247.25 L54.4 244.6 L55 244 L59 244.6 L61.6 245.9 L64.2 249.9 L67.5 252.5 L70.1 253.8 L72.7 252.5 L75.4 251.8 L76.7 250.5 L79.3 249.9 L84.6 250.5 L86.5 253 L89.8 256.4 L92.4 255.1 L91.8 253.15 L89.8 251.2 L92.4 250.5 L93.7 248.6 L97.7 245.9 L101.6 244.6 L106.9 242 L109.5 239.4 L110.8 236.1 L113.4 234.1 L116.3 233.5 L116.05 231.5 L112.1 232.15 L109.5 234.1 L108.8 238.1 L106.9 240 L105.55 238.1 L104.2 234.1 L102.9 236.75 L100.3 240.7 L97 243.3 L93.7 244.6 L89.8 242 L87.2 243.3 L82.6 244.6 L84.6 242 L87.8 239.4 L89.15 236.75 L89.8 231.5 L91.1 226.25 L92.4 223.6 L85.9 225.6 L80 227.6 L78.65 228.2 L76.7 228.2 L76.7 223.6 L78 218.4 L79.3 213.1 L79 209.8 L77.3 208.5 L75.4 210.5 L74.7 214.4 L73.4 218.4 L72.1 223.6 L66.2 223.6 L65.5 220.3 L56.3 220.3 L56.3 224.3 L53.1 226.25 L49.1 228.2 L44.5 230.2 L41.25 228.2 L38 226.9 L30 226.9ZM190.1 60 L190.1 62.8 L192.6 65.6 L193.6 66.25 L191.4 68.1 L190.75 70 L192.6 71.9 L195.1 73.1 L197 75 L197.6 78.1 L197.6 80.6 L198.25 81.6 L202 81.6 L203.9 80 L206.4 79.4 L208.9 78.4 L207 76.25 L205.1 73.75 L203.9 71.9 L202 70.6 L201.4 69.4 L202.6 67.5 L202.6 65 L201.4 62.8 L201.4 60ZM221.9 65 L225 63.75 L228.75 63.75 L230 65.6 L229.4 68.1 L226.9 70 L224.4 70 L221.9 67.5ZM235 60 L257.5 60 L257.5 68.75 L250 68.75 L249.4 69.4 L246.9 71.25 L246.25 73.75 L248.1 75 L250 75.6 L250 76.9 L248.1 76.9 L246.25 75.6 L245 72.5 L243.1 71.25 L240.6 72.5 L240 75.6 L240 78.1 L238.1 78.1 L236.25 75 L235.6 71.25 L236.25 67.5 L236 65ZM243.1 80 L248.75 81.25 L256.25 83.1 L256.9 85 L255 86.25 L254.4 89.4 L253.1 88.75 L250 86.25 L246.25 83.1ZM259.4 90 L261.25 90.6 L265 91.9 L270 91.9 L275 90.6 L278.1 89.4 L279.75 90 L278.75 92.5 L275 93.5 L270 93.75 L265 93.5 L261.25 92.75 L259.4 91.9ZM303.75 118.75 L307.5 118 L310 118 L313.75 121.25 L315 125 L320 127.5 L327.5 128.75 L335 131.25 L342.5 132.5 L350 133.25 L356.25 136.25 L362.5 140 L370 146.25 L377.5 152.5 L385 157.5 L392.5 163.75 L398.75 168.75 L401.25 172.5 L401.25 177.5 L397.5 178 L392.5 175 L385 171.25 L377.5 168.75 L370 166.25 L362.5 162.5 L355 160 L347.5 157.5 L342.5 155 L340 151.25 L335 148.75 L333.75 145 L327.5 142.5 L320 140 L312.5 137.5 L307.5 135 L303.75 131.25 L302.5 127.5 L303.75 122.5ZM353.75 175 L357.5 173.75 L361.25 172.5 L365 175 L370 174.5 L376.25 175 L381.25 176.25 L383.75 180 L388.75 182.5 L392.5 183.75 L393 188.75 L390 190 L385 188 L380 186.25 L375 186.25 L367.5 185 L360 185 L355.5 183.75 L355 181.25 L357.5 180 L354.5 177.5ZM290.6 172.5 L291.25 168.1 L295 166.9 L300 166.9 L303.75 168.1 L307.5 170 L311.25 171.9 L313.75 173.75 L312.5 174.75 L308.75 173.75 L306.25 173.1 L305 174.4 L305.6 175.6 L303.75 176.9 L300 177.5 L296.25 176.9 L292.5 175ZM266.25 157.5 L270 158.75 L273.75 161.25 L278.75 163.1 L281.25 166.25 L283.1 170 L286.25 173.1 L290 176.25 L293.1 180 L293.75 183.1 L291.25 183.1 L287.5 181.25 L283.75 178.75 L280 176.25 L276.25 174.4 L272.5 173.1 L268.75 171.9 L266.25 169.4 L265 165 L265.6 160ZM448 235.3 L452.2 234.8 L455 236.7 L459.7 236.25 L462.5 238.1 L467.2 240.9 L471.9 242.8 L477.5 243.75 L486.25 243.75 L488.75 245 L487.5 247.5 L477.5 248 L471.9 248 L465.3 246.6 L457.8 244.7 L451.25 242.8 L448.9 241 L449.4 239 L448 237.2ZM481.25 252.5 L485 251.25 L488.75 255 L492.5 258.75 L497.5 262.5 L502.5 267.5 L507.5 272.5 L512.5 276.25 L520 280 L527.5 283.75 L535 287.5 L542.5 290 L550 292.5 L555 295 L556.25 298.75 L552.5 300 L545 299.5 L540 296.25 L532.5 292.5 L525 288.75 L517.5 286.25 L510 282.5 L505 278.75 L500 273.75 L495 268.75 L490 263.75 L485 258.75 L481.25 255ZM481.25 270.75 L485.6 270 L488.5 272.9 L490.7 276.6 L488.5 278 L484.9 276.6 L482 273.7ZM490 278.8 L493.6 278 L496.6 281 L496.6 284.6 L493.6 285.3 L490.7 283.1 L490 280.2ZM502.4 285.2 L506.5 286.3 L512.2 289.2 L517.9 292.6 L524.8 296 L530.5 298.9 L535.1 302.3 L533.9 304 L529.4 303.5 L523.6 302.3 L523.1 303.5 L526.5 305.8 L531.7 308.1 L537.4 310.9 L543.1 314.4 L546.5 317.2 L544.3 318.4 L539.7 318.9 L533.9 317.8 L530.5 318.4 L531.7 320.1 L534.5 321.8 L535.1 324.7 L531.7 326.4 L524.8 327.5 L517.9 327 L513.3 324.7 L509.9 321.2 L508.7 317.8 L511 314.4 L509.9 310.9 L508.7 307.5 L508.2 302.9 L507.6 298.3 L505.9 293.7 L504.2 290.9 L503 288ZM555 299.2 L561.9 298.4 L567 301.8 L570.4 305.2 L572.2 306.9 L568.7 307.8 L563.6 306.9 L558.4 306.1 L555.8 303.5ZM555.8 307.8 L560.1 308.7 L565.3 312.1 L568.7 316.4 L570.4 319 L575.6 319.8 L580.8 321.5 L581.6 324.1 L577.3 324.6 L572.2 323.6 L568.7 322.4 L565.3 321.5 L560.1 319 L557.6 315.5 L555.8 311.2ZM573.9 306.1 L580.8 308.7 L589.3 312.1 L596.2 314.7 L601.4 315.5 L598.8 317.3 L592.8 318.1 L585.9 318.1 L580.8 316.4 L577.3 313.8 L575.6 310.4ZM211.5 287.5 L216.5 283.75 L221.5 283.1 L222.75 285 L220.25 288.75 L215.25 291.25 L211.5 291.9 L210.9 289.4ZM201.5 298.1 L204 295 L207.75 293.1 L209.6 293.75 L209 296.25 L205.9 297.5 L202.75 298.75Z" fill="none" stroke="#000" stroke-width="1"/>
<path d="M95.1 103.6 L99.5 104.25 L103.9 101.75 L107 96.75 L110.75 91.75 L115.75 89.9 L120.1 88 L121.4 84.25 L122.6 81.1 L125.1 79.25 L127 77.4 L129.5 76.75 L133.25 77.4 L135.75 76.75 L139.5 75.5 L140.1 73.6 L144.5 73.6 L148.9 74.25 L150.1 70.5 L152 73 L153.9 74.9 L153.25 78 L157 78.6 L161.4 80.5 L153.25 79.9 L151.4 80.5 L149.5 81.75 L148.9 78.6 L147 76.75 L143.25 76.1 L138.25 76.75 L134.5 78 L129.5 78 L125.75 78.6 L123.25 81.75 L123.9 84.25 L123.25 88 L122 91.1 L118.25 92.4 L113.25 93 L110.75 96.75 L110.75 101.75 L113.5 106 L115.25 110.5 L117.75 112.4 L119.6 115.5 L120.25 119.25 L120.9 123 L122.75 126.75 L124 129.9 L127.75 131.75 L129.6 134.25 L129.6 139.25 L131.5 143 L134 146.75 L135.9 149.9 L134.6 153 L132.75 155.5 L131.5 158 L130.9 160.5 L131.5 162.4 L130.25 165.5 L130.25 163 L128.4 161.75 L126.5 160.5 L127.1 158 L129 154.9 L129.6 151.75 L130.25 149.25 L129.6 145.5 L126.5 141.75 L125.25 138 L124.6 134.25 L122.1 131.75 L121.5 129.25 L119.6 126.75 L115.9 125.5 L114.6 123.6 L115.9 120.5 L117.1 116.75 L116.5 114.25 L115.9 111.75 L112.75 109.9 L111.4 105.5 L108.25 104.25 L103.25 103.6Z" fill="none" stroke="#000" stroke-width="1"/>
<path d="M151.75 199.2 L154.75 199.5 L159.25 203.25 L169 204 L178 205.5 L184 204.75 L191.5 201.75 L197.5 202.5 L205 202.5 L208 203.25 L214 207 L223 209.25 L229 210 L234.25 212.25 L234.25 213 L229 211.5 L223 210.75 L212.5 210.75 L208 209.25 L203.5 205.5 L194.5 205.5 L187 206.25 L182.5 207 L178 207.75 L172 207.75 L167.5 205.8 L159.25 205.5 L157 202.5Z" fill="none" stroke="#000" stroke-width="1"/>
<path d="M478.3 392.2 L483.75 390.7 L490 389.9 L494.7 390.7 L495.5 392.2 L493.1 393.8 L486.9 393.8 L482.2 394.6 L479.8 395.3Z" fill="none" stroke="#000" stroke-width="1"/>
<path d="M119.5 279.3 L122 280.2 L125 281.4 L128.5 283.2 L131.5 284.8 L134 286.6 L135 288.1" fill="none" stroke="#000" stroke-width="1"/>
<path d="M235.5 277.2 L239 276.6 L241.5 277 L245.25 277.6 L249 278 L252 275.8 L255.25 273.2 L257.75 271.8 L259 269.5 L259.2 266.25 L259 262.5 L261.5 260.3 L263.5 257 L265.5 253 L267.8 249 L269.5 245 L268.5 240 L266.2 235 L267.2 230.5 L265.3 227.3" fill="none" stroke="#000" stroke-width="3" stroke-linejoin="round"/>
<path d="M235.5 277.2 L239 276.6 L241.5 277 L245.25 277.6 L249 278 L252 275.8 L255.25 273.2 L257.75 271.8 L259 269.5 L259.2 266.25 L259 262.5 L261.5 260.3 L263.5 257 L265.5 253 L267.8 249 L269.5 245 L268.5 240 L266.2 235 L267.2 230.5 L265.3 227.3" fill="none" stroke="#e8e8e8" stroke-width="1" stroke-linejoin="round"/>
<path d="M197 158 L198 155 L202 152.5 L210 150.5 L220 150.5 L221.5 152 L220 152.5 L211 152 L206 153.5 L203 156 L202 160 L202.5 163 L201.5 164.5 L200 164 L200.5 162 L200.5 160.5 L198 160Z" fill="none" stroke="#000" stroke-width="1"/>
<path d="M192.25 219.3 L196.5 220 L202.75 221.9 L209 222.5 L216.5 221.9 L221.5 222.5 L226.5 221.9 L231.5 221.25 L236.5 220 L240.25 218.75 L246.5 218.75 L249 220 L250.9 225.6 L246.5 224.4 L242.75 223.1 L239 223.75 L236.5 226.25 L231.5 227.5 L226.5 228.1 L227.5 224.25 L223 223.5 L214 223.5 L205 223.5 L199 222Z" fill="none" stroke="#000" stroke-width="1"/>
<path d="M260.6 333.1 L270 332.2 L275.6 327.5 L281.25 321.9 L285 318.1 L290.6 312.5 L295.3 309.7 L293.4 312.5 L288.75 316.25 L285 320 L281.25 324.7 L275.6 329.4 L271.9 332.2 L266.25 333.6Z" fill="none" stroke="#000" stroke-width="1"/>
<path d="M339.5 288.5 L350 290 L360 291.25 L370 292.5 L380 296.25 L390 300 L400 302.5 L407.5 306.25 L400 307.5 L395 308.75 L390 306.25 L385 303.75 L375 300 L365 297.5 L355 294 L345 291 L339.5 289.5Z" fill="none" stroke="#000" stroke-width="1"/>
<path d="M188.4 83.2 L191.7 86.5 L188.4 89.8 L185.1 86.5 Z" fill="none" stroke="#000" stroke-width="1"/>
<path d="M194 86.1 L197.3 89.4 L194 92.7 L190.7 89.4 Z" fill="none" stroke="#000" stroke-width="1"/>
<path d="M251.5 133.05 L255.7 137.25 L251.5 141.45 L247.3 137.25 Z" fill="none" stroke="#000" stroke-width="1"/>
<path d="M363.25 211 L366.75 214.5 L363.25 218 L359.75 214.5 Z" fill="none" stroke="#000" stroke-width="1"/>
<path d="M432.5 239.75 L436 243.25 L432.5 246.75 L429 243.25 Z" fill="none" stroke="#000" stroke-width="1"/>
<path d="M521.1 358.1 L525.3 362.3 L521.1 366.5 L516.9 362.3 Z" fill="none" stroke="#000" stroke-width="1"/>
<path d="M519.25 367.5 L523.45 371.7 L519.25 375.9 L515.05 371.7 Z" fill="none" stroke="#000" stroke-width="1"/>
<path d="M515.5 377.8 L519.7 382 L515.5 386.2 L511.3 382 Z" fill="none" stroke="#000" stroke-width="1"/>
<path d="M527.5 353 L531 356.5 L527.5 360 L524 356.5 Z" fill="none" stroke="#000" stroke-width="1"/>
<path d="M530.5 350 L534 353.5 L530.5 357 L527 353.5 Z" fill="none" stroke="#000" stroke-width="1"/>
<path d="M533.5 353 L537 356.5 L533.5 360 L530 356.5 Z" fill="none" stroke="#000" stroke-width="1"/>
<path d="M530.5 356 L534 359.5 L530.5 363 L527 359.5 Z" fill="none" stroke="#000" stroke-width="1"/>
<path d="M534 348.5 L536.5 351 L534 353.5 L531.5 351 Z" fill="none" stroke="#000" stroke-width="1"/>
<path d="M538 360.4 L542.3 364.7 L538 369 L533.7 364.7 Z" fill="none" stroke="#000" stroke-width="1"/>
<path d="M542.7 359.45 L547 363.75 L542.7 368.05 L538.4 363.75 Z" fill="none" stroke="#000" stroke-width="1"/>
<path d="M540.8 368.8 L545.1 373.1 L540.8 377.4 L536.5 373.1 Z" fill="none" stroke="#000" stroke-width="1"/>
<path d="M536.1 371.7 L540.4 376 L536.1 380.3 L531.8 376 Z" fill="none" stroke="#000" stroke-width="1"/>
<path d="M546.4 368.8 L550.7 373.1 L546.4 377.4 L542.1 373.1 Z" fill="none" stroke="#000" stroke-width="1"/>
<path d="M550.2 371.7 L554.5 376 L550.2 380.3 L545.9 376 Z" fill="none" stroke="#000" stroke-width="1"/>
<path d="M545.5 374.45 L549.8 378.75 L545.5 383.05 L541.2 378.75 Z" fill="none" stroke="#000" stroke-width="1"/>
<path d="M553 374.45 L557.3 378.75 L553 383.05 L548.7 378.75 Z" fill="none" stroke="#000" stroke-width="1"/>
<path d="M554.9 378 L558.4 381.5 L554.9 385 L551.4 381.5 Z" fill="none" stroke="#000" stroke-width="1"/>
<path d="M549.25 379 L552.75 382.5 L549.25 386 L545.75 382.5 Z" fill="none" stroke="#000" stroke-width="1"/>
<path d="M524.9 374.3 L528.4 377.8 L524.9 381.3 L521.4 377.8 Z" fill="none" stroke="#000" stroke-width="1"/>
<path d="M522.5 377.5 L525.5 380.5 L522.5 383.5 L519.5 380.5 Z" fill="none" stroke="#000" stroke-width="1"/>
<path d="M556 369 L559 372 L556 375 L553 372 Z" fill="none" stroke="#000" stroke-width="1"/>
<path d="M558.5 371.5 L561.5 374.5 L558.5 377.5 L555.5 374.5 Z" fill="none" stroke="#000" stroke-width="1"/>
<path d="M521.5 383.5 L524 386 L521.5 388.5 L519 386 Z" fill="none" stroke="#000" stroke-width="1"/>
</g>
<text x="105.85" y="56.8" font-size="16.2" textLength="138.05" lengthAdjust="spacingAndGlyphs" class="tt">IslandWeather.ca</text>
<text x="250.6" y="56.8" font-size="16.2" textLength="28.6" lengthAdjust="spacingAndGlyphs" class="tt">−−</text>
<text x="286.85" y="56.8" font-size="16.2" textLength="69.85" lengthAdjust="spacingAndGlyphs" class="tt">Summer</text>
<text x="363.7" y="56.8" font-size="16.2" textLength="40.2" lengthAdjust="spacingAndGlyphs" class="tt">Total</text>
<text x="410.1" y="56.8" font-size="16.2" textLength="40.2" lengthAdjust="spacingAndGlyphs" class="tt">Daily</text>
<text x="456.5" y="56.8" font-size="16.2" textLength="36" lengthAdjust="spacingAndGlyphs" class="tt">Rain</text>
<text x="498.7" y="56.8" font-size="16.2" textLength="34.5" lengthAdjust="spacingAndGlyphs" class="tt">PDF</text>
<g shape-rendering="crispEdges">
<rect x="68" y="446" width="513" height="4" fill="#dcdcdc"/>
<rect x="577" y="430" width="4" height="20" fill="#dcdcdc"/>
<rect x="64" y="426" width="20" height="19" fill="#140064"/>
<rect x="84" y="426" width="19" height="19" fill="#0a0096"/>
<rect x="103" y="426" width="20" height="19" fill="#0000c8"/>
<rect x="123" y="426" width="20" height="19" fill="#0000ff"/>
<rect x="143" y="426" width="19" height="19" fill="#0019ff"/>
<rect x="162" y="426" width="20" height="19" fill="#0041ff"/>
<rect x="182" y="426" width="20" height="19" fill="#0072ff"/>
<rect x="202" y="426" width="20" height="19" fill="#0096ff"/>
<rect x="222" y="426" width="19" height="19" fill="#00a0d2"/>
<rect x="241" y="426" width="20" height="19" fill="#00aaa0"/>
<rect x="261" y="426" width="20" height="19" fill="#00aa6e"/>
<rect x="281" y="426" width="19" height="19" fill="#00b43c"/>
<rect x="300" y="426" width="20" height="19" fill="#00d200"/>
<rect x="320" y="426" width="20" height="19" fill="#00f014"/>
<rect x="340" y="426" width="19" height="19" fill="#1efa0a"/>
<rect x="359" y="426" width="20" height="19" fill="#46ff00"/>
<rect x="379" y="426" width="20" height="19" fill="#96ff00"/>
<rect x="399" y="426" width="19" height="19" fill="#ffff00"/>
<rect x="418" y="426" width="20" height="19" fill="#ffdc00"/>
<rect x="438" y="426" width="20" height="19" fill="#ffbe00"/>
<rect x="458" y="426" width="20" height="19" fill="#ff9600"/>
<rect x="478" y="426" width="19" height="19" fill="#ff7d00"/>
<rect x="497" y="426" width="20" height="19" fill="#ff6400"/>
<rect x="517" y="426" width="20" height="19" fill="#ff4100"/>
<rect x="537" y="426" width="19" height="19" fill="#ff2800"/>
<rect x="556" y="426" width="21" height="19" fill="#ff0000"/>
<rect x="64.5" y="426.5" width="512" height="19" fill="none" stroke="#000" stroke-width="1"/>
<line x1="64.5" y1="426" x2="64.5" y2="449.5" stroke="#000" stroke-width="1"/>
<line x1="128.5" y1="426" x2="128.5" y2="449.5" stroke="#000" stroke-width="1"/>
<line x1="192.5" y1="426" x2="192.5" y2="449.5" stroke="#000" stroke-width="1"/>
<line x1="256.5" y1="426" x2="256.5" y2="449.5" stroke="#000" stroke-width="1"/>
<line x1="320.5" y1="426" x2="320.5" y2="449.5" stroke="#000" stroke-width="1"/>
<line x1="384.5" y1="426" x2="384.5" y2="449.5" stroke="#000" stroke-width="1"/>
<line x1="448.5" y1="426" x2="448.5" y2="449.5" stroke="#000" stroke-width="1"/>
<line x1="512.5" y1="426" x2="512.5" y2="449.5" stroke="#000" stroke-width="1"/>
<line x1="576.5" y1="426" x2="576.5" y2="449.5" stroke="#000" stroke-width="1"/>
</g>
<text x="56.4" y="458.9" font-size="11" textLength="16.2" lengthAdjust="spacingAndGlyphs" class="tt">8.0</text>
<text x="117.7" y="458.9" font-size="11" textLength="21.6" lengthAdjust="spacingAndGlyphs" class="tt">17.8</text>
<text x="181.7" y="458.9" font-size="11" textLength="21.6" lengthAdjust="spacingAndGlyphs" class="tt">27.5</text>
<text x="245.7" y="458.9" font-size="11" textLength="21.6" lengthAdjust="spacingAndGlyphs" class="tt">37.3</text>
<text x="309.7" y="458.9" font-size="11" textLength="21.6" lengthAdjust="spacingAndGlyphs" class="tt">47.0</text>
<text x="373.7" y="458.9" font-size="11" textLength="21.6" lengthAdjust="spacingAndGlyphs" class="tt">56.8</text>
<text x="437.7" y="458.9" font-size="11" textLength="21.6" lengthAdjust="spacingAndGlyphs" class="tt">66.5</text>
<text x="501.7" y="458.9" font-size="11" textLength="21.6" lengthAdjust="spacingAndGlyphs" class="tt">76.3</text>
<text x="565.7" y="458.9" font-size="11" textLength="21.6" lengthAdjust="spacingAndGlyphs" class="tt">86.0</text>
<text x="167.15" y="469.9" font-size="10.2" textLength="13.45" lengthAdjust="spacingAndGlyphs" class="tt">95</text>
<text x="180.4" y="464.6" font-size="7" textLength="7.2" lengthAdjust="spacingAndGlyphs" class="tt">th</text>
<text x="193.15" y="469.9" font-size="10.2" textLength="50.55" lengthAdjust="spacingAndGlyphs" class="tt">percentile</text>
<text x="248.15" y="469.9" font-size="10.2" textLength="11.2" lengthAdjust="spacingAndGlyphs" class="tt">of</text>
<text x="264.4" y="469.9" font-size="10.2" textLength="23.7" lengthAdjust="spacingAndGlyphs" class="tt">daily</text>
<text x="293.8" y="469.9" font-size="10.2" textLength="19.9" lengthAdjust="spacingAndGlyphs" class="tt">rain</text>
<text x="318.8" y="469.9" font-size="10.2" textLength="54.9" lengthAdjust="spacingAndGlyphs" class="tt">(mm/day)</text>
<text x="379.4" y="469.9" font-size="10.2" textLength="13.1" lengthAdjust="spacingAndGlyphs" class="tt">on</text>
<text x="398.15" y="469.9" font-size="10.2" textLength="26.85" lengthAdjust="spacingAndGlyphs" class="tt">2026</text>
<text x="425.6" y="469.9" font-size="10.2" textLength="6.9" lengthAdjust="spacingAndGlyphs" class="tt">-</text>
<text x="433.15" y="469.9" font-size="10.2" textLength="19.35" lengthAdjust="spacingAndGlyphs" class="tt">Apr</text>
<text x="452.5" y="469.9" font-size="10.2" textLength="5.6" lengthAdjust="spacingAndGlyphs" class="tt">-</text>
<text x="458.8" y="469.9" font-size="10.2" textLength="13.05" lengthAdjust="spacingAndGlyphs" class="tt">20</text>
</svg></body></html>
